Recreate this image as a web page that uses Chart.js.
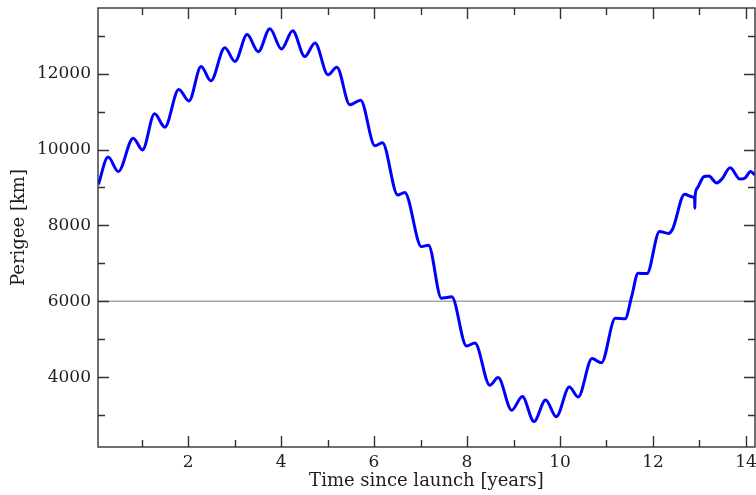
<!DOCTYPE html>
<html>
<head>
<meta charset="utf-8">
<script src="https://cdn.jsdelivr.net/npm/chart.js@4.4.1/dist/chart.umd.min.js"></script>
<style>
  html, body { margin: 0; padding: 0; background: #fff; }
  #wrap { width: 756px; height: 495px; position: relative; }
</style>
</head>
<body>
<div id="wrap"><canvas id="perigeeChart"></canvas></div>
<script>
// ── Data ──
const timeYears = [
  0.07, 0.28, 0.50, 0.82, 1.02, 1.28, 1.50, 1.80, 2.02, 2.28,
  2.49, 2.79, 3.01, 3.27, 3.51, 3.76, 4.01, 4.25, 4.51, 4.73,
  5.01, 5.20, 5.48, 5.71, 6.02, 6.18, 6.51, 6.66, 7.02, 7.17,
  7.45, 7.56, 7.67, 7.99, 8.17, 8.49, 8.67, 8.96, 9.19, 9.44,
  9.69, 9.92, 10.20, 10.39, 10.69, 10.89, 11.19, 11.40, 11.54, 11.68,
  11.87, 12.14, 12.33, 12.42, 12.68, 12.85, 12.895, 12.90, 12.905, 12.95,
  13.10, 13.20, 13.37, 13.48, 13.66, 13.87, 13.98, 14.10, 14.19
];
const perigeeKm = [
  9080, 9800, 9420, 10300, 9990, 10940, 10590, 11580, 11280, 12190,
  11810, 12680, 12320, 13030, 12580, 13180, 12650, 13130, 12450, 12810,
  11970, 12170, 11180, 11300, 10100, 10180, 8800, 8870, 7440, 7480,
  6080, 6100, 6120, 4820, 4900, 3790, 3990, 3130, 3490, 2830,
  3400, 2960, 3740, 3480, 4490, 4380, 5550, 5540, 6120, 6740,
  6730, 7840, 7790, 7900, 8820, 8750, 8740, 8450, 8760, 8980,
  9290, 9300, 9120, 9220, 9520, 9220, 9250, 9420, 9330
];
const refLevel = 6000;
const xRange = [0.063, 14.194];
const yRange = [2160, 13730];
const xTicks = [1, 2, 3, 4, 5, 6, 7, 8, 9, 10, 11, 12, 13, 14];
const yTicks = [3000, 4000, 5000, 6000, 7000, 8000, 9000, 10000, 11000, 12000, 13000];

const FONT = "'DejaVu Serif', 'Liberation Serif', serif";
const INK = "#1e1e1e";

// no extra room for overhanging tick labels, keep the plot box fixed
function noLabelPadding(s) {
  s.paddingTop = 0; s.paddingBottom = 0; s.paddingLeft = 0; s.paddingRight = 0;
}

// ── Frame + inward ticks on all four sides ──
const frameTicks = {
  id: "frameTicks",
  afterDraw(chart) {
    const { ctx, chartArea: a, scales: { x, y } } = chart;
    ctx.save();
    ctx.strokeStyle = "#333";
    ctx.lineWidth = 1.4;
    ctx.strokeRect(a.left, a.top, a.right - a.left, a.bottom - a.top);
    ctx.beginPath();
    x.ticks.forEach(t => {
      const px = Math.round(x.getPixelForValue(t.value)) + 0.5;
      const len = t.value % 2 === 0 ? 11 : 7;
      ctx.moveTo(px, a.bottom); ctx.lineTo(px, a.bottom - len);
      ctx.moveTo(px, a.top);    ctx.lineTo(px, a.top + len);
    });
    y.ticks.forEach(t => {
      const py = Math.round(y.getPixelForValue(t.value)) + 0.5;
      const len = t.value % 2000 === 0 ? 11 : 7;
      ctx.moveTo(a.left, py);  ctx.lineTo(a.left + len, py);
      ctx.moveTo(a.right, py); ctx.lineTo(a.right - len, py);
    });
    ctx.stroke();
    ctx.restore();
  }
};

new Chart(document.getElementById("perigeeChart"), {
  type: "line",
  data: {
    datasets: [
      {
        label: "Perigee",
        data: timeYears.map((t, i) => ({ x: t, y: perigeeKm[i] })),
        borderColor: "#0000ff",
        borderWidth: 3,
        pointRadius: 0,
        cubicInterpolationMode: "monotone",
        fill: false
      },
      {
        label: "6000 km",
        data: [{ x: xRange[0], y: refLevel }, { x: xRange[1], y: refLevel }],
        borderColor: "#a8a8a8",
        borderWidth: 1.6,
        pointRadius: 0,
        fill: false
      }
    ]
  },
  options: {
    responsive: true,
    maintainAspectRatio: false,
    animation: false,
    layout: { padding: { left: 0, right: 1, top: 8, bottom: 0 } },
    plugins: { legend: { display: false }, tooltip: { enabled: false } },
    scales: {
      x: {
        type: "linear",
        min: xRange[0],
        max: xRange[1],
        grid: { display: false, drawTicks: false },
        border: { display: false },
        afterBuildTicks: s => { s.ticks = xTicks.map(v => ({ value: v })); },
        afterFit: s => { s.height = 48; noLabelPadding(s); },
        ticks: {
          autoSkip: false,
          maxRotation: 0,
          padding: 5,
          color: INK,
          font: { family: FONT, size: 17 },
          callback: v => (v % 2 === 0 ? String(v) : "")
        },
        title: {
          display: true,
          text: "Time since launch [years]",
          color: INK,
          font: { family: FONT, size: 18 },
          padding: { top: 0, bottom: 3 }
        }
      },
      y: {
        type: "linear",
        min: yRange[0],
        max: yRange[1],
        grid: { display: false, drawTicks: false },
        border: { display: false },
        afterBuildTicks: s => { s.ticks = yTicks.map(v => ({ value: v })); },
        afterFit: s => { s.width = 98; noLabelPadding(s); },
        ticks: {
          autoSkip: false,
          padding: 7,
          color: INK,
          font: { family: FONT, size: 17 },
          callback: v => (v % 2000 === 0 ? String(v) : "")
        },
        title: {
          display: true,
          text: "Perigee [km]",
          color: INK,
          font: { family: FONT, size: 18 },
          padding: { top: 9, bottom: 0 }
        }
      }
    }
  },
  plugins: [frameTicks]
});
</script>
</body>
</html>
